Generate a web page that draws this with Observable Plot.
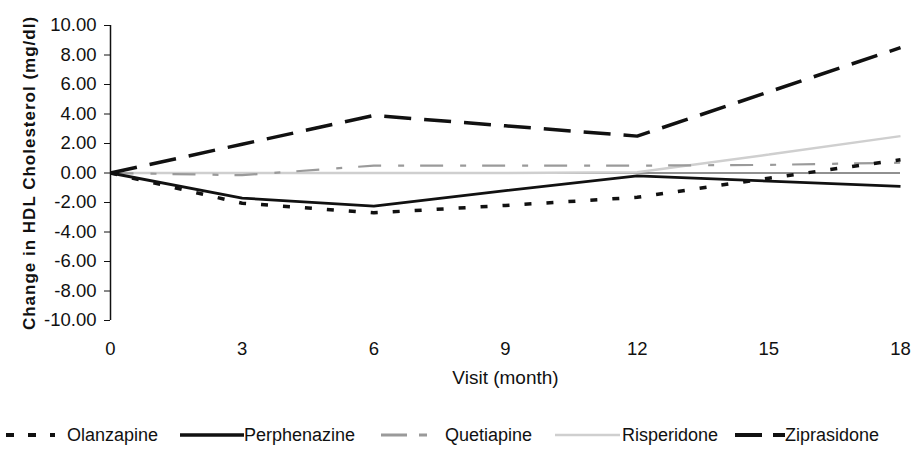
<!DOCTYPE html>
<html>
<head>
<meta charset="utf-8">
<script src="https://cdn.jsdelivr.net/npm/d3@7"></script>
<script src="https://cdn.jsdelivr.net/npm/@observablehq/plot@0.6"></script>
<style>
  html, body { margin: 0; padding: 0; background: #fff; }
  body { width: 912px; height: 454px; overflow: hidden; font-family: "Liberation Sans", Arial, sans-serif; }
  g[aria-label="y-axis label"] text { font-weight: bold; font-size: 17px; letter-spacing: 1px; }
  g[aria-label="x-axis label"] text { font-size: 19px; }
  #legend { position: relative; height: 44px; font-size: 18px; color: #111; }
  .item { position: absolute; top: 3px; height: 44px; display: flex; align-items: center; white-space: nowrap; }
  .item svg { display: block; }
</style>
</head>
<body>
<div id="chart"></div>
<div id="legend"></div>
<script>
const months = [0, 3, 6, 9, 12, 15, 18];
const olanzapine   = [0, -2.05, -2.7, -2.2, -1.65, -0.35, 0.9];
const perphenazine = [0, -1.7, -2.25, -1.2, -0.2, -0.55, -0.9];
const quetiapine   = [0, -0.15, 0.5, 0.5, 0.5, 0.55, 0.7];
const risperidone  = [0, 0, 0, 0, 0.05, 1.25, 2.5];
const ziprasidone  = [0, 1.95, 3.9, 3.2, 2.5, 5.5, 8.5];
const seriesNames = ["Olanzapine", "Perphenazine", "Quetiapine", "Risperidone", "Ziprasidone"];
const xTicks = [0, 3, 6, 9, 12, 15, 18];
const yTicks = [-10, -8, -6, -4, -2, 0, 2, 4, 6, 8, 10];

const valuesByName = {
  Olanzapine: olanzapine, Perphenazine: perphenazine, Quetiapine: quetiapine,
  Risperidone: risperidone, Ziprasidone: ziprasidone
};
const styles = {
  Olanzapine:   {stroke: "#111", strokeWidth: 3.5, dash: "7,15", legendDash: "8,14", legendWidth: 4},
  Perphenazine: {stroke: "#111", strokeWidth: 2.8, dash: null, legendDash: null, legendWidth: 3.5},
  Quetiapine:   {stroke: "#9a9a9a", strokeWidth: 2.2, dash: "23,17,6,16", legendDash: "26,12,8,30", legendWidth: 3},
  Risperidone:  {stroke: "#cfcfcf", strokeWidth: 2.5, dash: null, legendDash: null, legendWidth: 2.5},
  Ziprasidone:  {stroke: "#111", strokeWidth: 3.5, dash: "27,13", legendDash: "27,11,12,10", legendWidth: 4}
};
const rows = seriesNames.flatMap(name => months.map((m, i) => ({series: name, month: m, value: valuesByName[name][i]})));
const drawOrder = ["Risperidone", "Quetiapine", "Olanzapine", "Perphenazine", "Ziprasidone"];

const plot = Plot.plot({
  width: 912,
  height: 410,
  marginLeft: 110,
  marginRight: 12,
  marginTop: 25,
  marginBottom: 90,
  style: {fontSize: "18px", fontFamily: "'Liberation Sans', Arial, sans-serif", color: "#111", background: "#fff"},
  x: {domain: [0, 18]},
  y: {domain: [-10, 10]},
  marks: [
    Plot.ruleY([0], {stroke: "#222", strokeWidth: 1}),
    ...drawOrder.map(name => Plot.line(rows.filter(d => d.series === name), {
      x: "month", y: "value",
      stroke: styles[name].stroke,
      strokeWidth: styles[name].strokeWidth,
      strokeDasharray: styles[name].dash,
      strokeLinecap: "butt",
      strokeLinejoin: "miter"
    })),
    Plot.ruleX([0], {stroke: "#111", strokeWidth: 1.5}),
    Plot.axisY({ticks: yTicks, tickFormat: d => d.toFixed(2), tickSize: 6, tickPadding: 8, fontSize: 18.5,
      label: "Change in HDL Cholesterol (mg/dl)", labelAnchor: "center", labelArrow: "none", labelOffset: 88}),
    Plot.axisX({ticks: xTicks, tickSize: 0, tickPadding: 21, fontSize: 18.5, tickFormat: d => String(d),
      label: "Visit (month)", labelAnchor: "center", labelArrow: "none", labelOffset: 63})
  ]
});
document.getElementById("chart").appendChild(plot);

// legend
const legendLayout = {
  Olanzapine:   {left: 6,   w: 49, gap: 12},
  Perphenazine: {left: 180, w: 64, gap: 0},
  Quetiapine:   {left: 381, w: 50, gap: 14},
  Risperidone:  {left: 555, w: 65, gap: 2},
  Ziprasidone:  {left: 735, w: 50, gap: 0}
};
const legend = document.getElementById("legend");
seriesNames.forEach(name => {
  const st = styles[name], lay = legendLayout[name];
  const item = document.createElement("div");
  item.className = "item";
  item.style.left = lay.left + "px";
  const s = d3.create("svg").attr("width", lay.w).attr("height", 10);
  s.append("line").attr("x1", 0).attr("x2", lay.w).attr("y1", 5).attr("y2", 5)
    .attr("stroke", st.stroke).attr("stroke-width", st.legendWidth)
    .attr("stroke-dasharray", st.legendDash);
  item.appendChild(s.node());
  const t = document.createElement("span");
  t.textContent = name;
  t.style.marginLeft = lay.gap + "px";
  item.appendChild(t);
  legend.appendChild(item);
});
</script>
</body>
</html>
